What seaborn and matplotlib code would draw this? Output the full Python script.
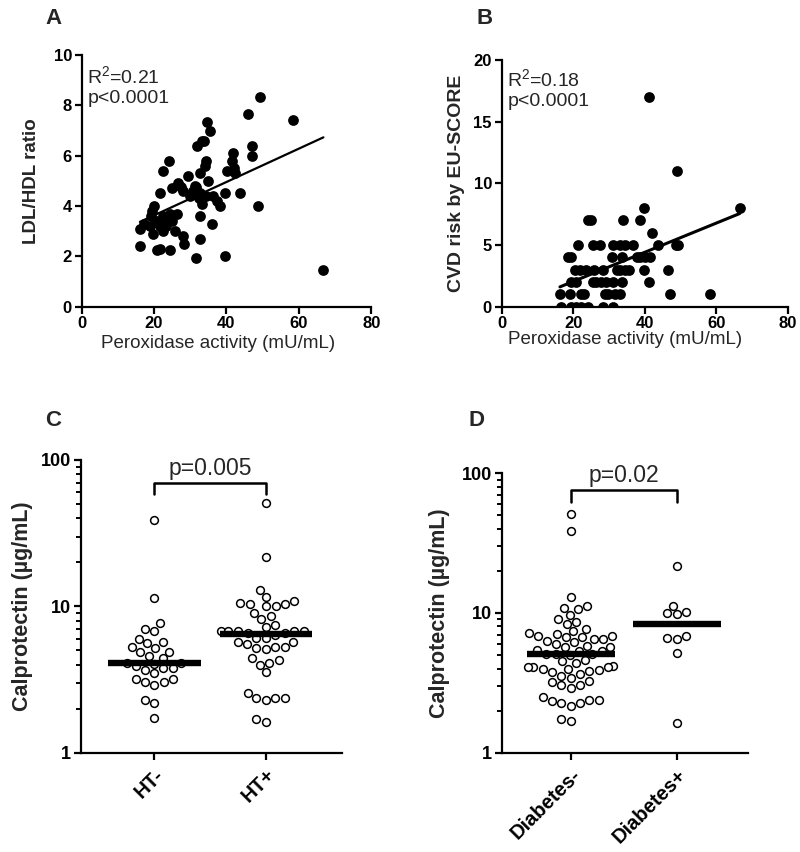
import numpy as np
import pandas as pd
import matplotlib
matplotlib.use("Agg")
import matplotlib.pyplot as plt
import seaborn as sns
from matplotlib.ticker import FixedLocator, NullFormatter, FixedFormatter

# ---------------- data ----------------
# Panel A: peroxidase activity vs LDL/HDL ratio
A_x = [16.1, 16.1, 17.2, 18.9, 19.4, 20.1, 19.8, 20.7, 21.7, 21.7, 22.4, 24.2, 20.7, 21.7,
       22.6, 23.5, 24.4, 24.9, 22.6, 25.8, 24.4, 26.3, 24.9, 26.7, 28.1, 29.3, 29.9, 28.1,
       28.3, 31.3, 31.6, 32.0, 33.2, 33.8, 34.6, 35.5, 34.3, 34.1, 32.7, 35.0, 32.7, 33.2,
       32.7, 32.7, 35.9, 36.4, 37.3, 38.2, 39.6, 39.6, 40.1, 41.5, 41.7, 42.0, 42.4, 43.8,
       46.1, 47.0, 47.2, 48.8, 49.3, 58.5, 66.8, 30.9, 32.3, 34.5, 31.5, 19.2, 23.2, 27.5]
A_y = [2.4, 3.1, 3.3, 3.2, 3.8, 4.0, 2.9, 2.25, 2.3, 4.5, 5.4, 5.8, 3.4, 3.2,
       3.6, 3.4, 3.7, 3.4, 3.0, 3.0, 2.25, 3.7, 4.7, 4.9, 4.6, 5.2, 4.4, 2.8,
       2.5, 4.8, 1.95, 6.4, 6.6, 6.6, 7.35, 7.0, 5.8, 5.6, 5.3, 5.0, 4.5, 4.1,
       3.6, 2.7, 3.3, 4.4, 4.2, 4.0, 4.5, 2.0, 5.4, 5.8, 6.1, 5.5, 5.3, 4.5,
       7.65, 6.4, 6.0, 4.0, 8.35, 7.4, 1.45, 4.6, 4.3, 4.4, 4.75, 3.6, 3.2, 4.75]

# Panel B: peroxidase activity vs CVD risk (EU-SCORE)
B_x = [16.7, 19.5, 20.9, 22.3, 24.2, 28.2, 31.0,
       16.3, 19.1, 22.3, 23.0, 28.8, 29.8, 31.6, 33.0, 47.0, 58.1,
       19.5, 20.9, 25.6, 26.5, 27.9, 29.1, 31.2, 33.5, 41.2,
       20.5, 21.9, 23.7, 25.8, 28.2, 32.1, 33.0, 34.4, 35.6, 39.7, 46.5,
       18.6, 19.5, 30.7, 33.5, 37.7, 38.6, 40.0, 41.4,
       21.4, 25.6, 27.4, 31.2, 33.0, 34.4, 36.7, 43.7, 48.8, 49.3,
       42.1,
       24.2, 25.1, 34.0, 38.6,
       39.7, 66.5,
       49.0,
       41.2]
B_y = [0, 0, 0, 0, 0, 0, 0,
       1, 1, 1, 1, 1, 1, 1, 1, 1, 1,
       2, 2, 2, 2, 2, 2, 2, 2, 2,
       3, 3, 3, 3, 3, 3, 3, 3, 3, 3, 3,
       4, 4, 4, 4, 4, 4, 4, 4,
       5, 5, 5, 5, 5, 5, 5, 5, 5, 5,
       6,
       7, 7, 7, 7,
       8, 8,
       11,
       17]

# Panel C: calprotectin by hypertension
C_groups = ["HT-", "HT+"]
C_neg = [38.6, 11.4, 7.7, 6.8, 7.0, 5.15, 4.9, 5.7, 5.6, 6.0, 5.3, 4.4, 4.6, 4.9,
         4.1, 3.9, 3.76, 3.66, 3.76, 4.06, 4.1, 3.2, 3.05, 2.9, 3.05, 3.2, 3.5,
         2.29, 2.17, 1.73]
C_pos = [51.2, 21.6, 13.0, 11.6, 10.9, 10.3, 10.0, 10.4, 10.6, 10.0, 8.55, 9.0, 8.2,
         7.2, 7.5, 6.8, 6.8, 6.6, 6.4, 6.6, 6.8, 6.8, 6.8, 6.1, 5.7, 5.3, 5.15,
         5.07, 5.3, 5.5, 5.7, 6.1, 4.4, 4.13, 3.57, 4.0, 4.3, 2.38, 2.35, 2.29,
         2.38, 2.54, 1.63, 1.7]
C_p = "p=0.005"

# Panel D: calprotectin by diabetes
D_groups = ["Diabetes-", "Diabetes+"]
D_neg = [51.3, 38.7, 12.9, 10.9, 11.3, 9.7, 10.6, 9.0, 8.3, 8.6, 7.4, 7.1, 7.2, 7.7,
         6.8, 6.7, 6.7, 6.85, 6.5, 6.15, 5.8, 5.7, 5.7, 6.0, 6.3, 6.5,
         5.3, 5.1, 5.0, 5.4, 5.1, 5.1, 5.3, 4.5, 4.6,
         4.2, 4.07, 4.0, 3.9, 3.8, 3.65, 3.85, 4.0, 4.07, 4.1, 4.4,
         3.55, 3.27, 3.04, 2.91, 3.04, 3.2, 3.45,
         2.38, 2.35, 2.28, 2.17, 2.28, 2.38, 2.51, 1.69, 1.74]
D_pos = [21.5, 11.3, 10.0, 9.8, 10.2, 6.8, 6.5, 6.6, 5.2, 1.62]
D_p = "p=0.02"

# ---------------- style ----------------
sns.set_theme(style="ticks")
plt.rcParams["font.family"] = ["Liberation Sans", "DejaVu Sans"]
plt.rcParams["font.weight"] = "bold"
plt.rcParams["axes.labelweight"] = "bold"
plt.rcParams["mathtext.fontset"] = "custom"
plt.rcParams["mathtext.rm"] = "Liberation Sans:weight=normal"

fig = plt.figure(figsize=(8, 8.52), dpi=100)
axA = fig.add_axes([0.102, 0.640, 0.362, 0.2954])
axB = fig.add_axes([0.627, 0.640, 0.358, 0.2896])
axC = fig.add_axes([0.101, 0.1166, 0.326, 0.3435])
axD = fig.add_axes([0.627, 0.1166, 0.308, 0.328])


def style(ax):
    for s in ["top", "right"]:
        ax.spines[s].set_visible(False)
    for s in ["left", "bottom"]:
        ax.spines[s].set_linewidth(1.6)
        ax.spines[s].set_color("black")
    ax.tick_params(axis="both", which="major", direction="out", length=5, width=1.6,
                   color="black", labelsize=12, labelcolor="black", pad=2)
    ax.tick_params(axis="both", which="minor", direction="out", length=3.5, width=1.4,
                   color="black")
    for lab in ax.get_xticklabels() + ax.get_yticklabels():
        lab.set_fontweight("bold")


# ---- Panel A ----
sns.scatterplot(x=A_x, y=A_y, ax=axA, color="black", s=60, linewidth=0)
sns.regplot(x=A_x, y=A_y, ax=axA, scatter=False, ci=None, color="black",
            line_kws={"lw": 1.6})
axA.set_xlim(0, 80)
axA.set_ylim(0, 10)
axA.set_xticks([0, 20, 40, 60, 80])
axA.set_yticks([0, 2, 4, 6, 8, 10])
axA.set_ylabel("LDL/HDL ratio", fontsize=13.5, fontweight="bold")
axA.set_xlabel("Peroxidase activity (mU/mL)", fontsize=13.5, fontweight="normal")
axA.yaxis.set_label_coords(-0.144, 0.5)
axA.xaxis.set_label_coords(0.47, -0.112)
axA.text(0.02, 0.96, "R$^\\mathrm{2}$=0.21\np<0.0001", transform=axA.transAxes, fontsize=14,
         fontweight="normal", va="top", ha="left", linespacing=1.15)
style(axA)

# ---- Panel B ----
sns.scatterplot(x=B_x, y=B_y, ax=axB, color="black", s=60, linewidth=0)
sns.regplot(x=B_x, y=B_y, ax=axB, scatter=False, ci=None, color="black",
            line_kws={"lw": 2.2})
axB.set_xlim(0, 80)
axB.set_ylim(0, 20)
axB.set_xticks([0, 20, 40, 60, 80])
axB.set_yticks([0, 5, 10, 15, 20])
axB.set_ylabel("CVD risk by EU-SCORE", fontsize=14, fontweight="bold")
axB.set_xlabel("Peroxidase activity (mU/mL)", fontsize=13.5, fontweight="normal")
axB.yaxis.set_label_coords(-0.128, 0.5)
axB.xaxis.set_label_coords(0.43, -0.1)
axB.text(0.02, 0.965, "R$^\\mathrm{2}$=0.18\np<0.0001", transform=axB.transAxes, fontsize=14,
         fontweight="normal", va="top", ha="left", linespacing=1.15)
style(axB)


# ---- Panels C and D ----
def dot_panel(ax, groups, neg, pos, ptext, bracket, text_y, xlim):
    df = pd.DataFrame({
        "group": [groups[0]] * len(neg) + [groups[1]] * len(pos),
        "value": neg + pos,
    })
    ax.set_yscale("log")
    ax.set_ylim(1, 100)
    sns.swarmplot(data=df, x="group", y="value", order=groups, ax=ax, color="white",
                  edgecolor="black", linewidth=1.1, size=5.6, zorder=3)
    meds = [np.median(neg), np.median(pos)]
    for i, m in enumerate(meds):
        ax.hlines(m, i - 0.415, i + 0.415, color="black", lw=4.6, zorder=4)
    lo, hi = bracket
    ax.plot([0, 0, 1, 1], [lo, hi, hi, lo], color="black", lw=1.8, zorder=5)
    ax.text(0.5, text_y, ptext, ha="center", va="bottom", fontsize=16.5,
            fontweight="normal")
    ax.set_xlim(*xlim)
    ax.set_ylim(1, 100)
    ax.yaxis.set_major_locator(FixedLocator([1, 10, 100]))
    ax.yaxis.set_major_formatter(FixedFormatter(["1", "10", "100"]))
    ax.yaxis.set_minor_locator(FixedLocator([k * 10 ** e for e in (0, 1) for k in range(2, 10)]))
    ax.yaxis.set_minor_formatter(NullFormatter())
    ax.set_xlabel("")
    ax.set_ylabel("Calprotectin (µg/mL)", fontsize=15.5, fontweight="bold")
    style(ax)
    ax.tick_params(axis="y", which="major", labelsize=13)
    ax.tick_params(axis="x", which="major", pad=4)
    for lab in ax.get_xticklabels():
        lab.set_rotation(45)
        lab.set_ha("right")
        lab.set_rotation_mode("anchor")
        lab.set_fontsize(14.5)
        lab.set_fontweight("bold")


dot_panel(axC, C_groups, C_neg, C_pos, C_p, (58.7, 70), 73, (-0.66, 1.68))
axC.yaxis.set_label_coords(-0.185, 0.5)
dot_panel(axD, D_groups, D_neg, D_pos, D_p, (62.6, 76), 80, (-0.65, 1.67))
axD.yaxis.set_label_coords(-0.21, 0.5)

# ---- panel letters ----
for lbl, (x, y) in {"A": (45, 8), "B": (476, 8), "C": (45, 410), "D": (468, 410)}.items():
    fig.text(x / 800, 1 - y / 852, lbl, fontsize=16, fontweight="bold", va="top",
             ha="left", family=["Liberation Sans Narrow", "Liberation Sans", "DejaVu Sans"])

fig.savefig("out.png", dpi=100)
